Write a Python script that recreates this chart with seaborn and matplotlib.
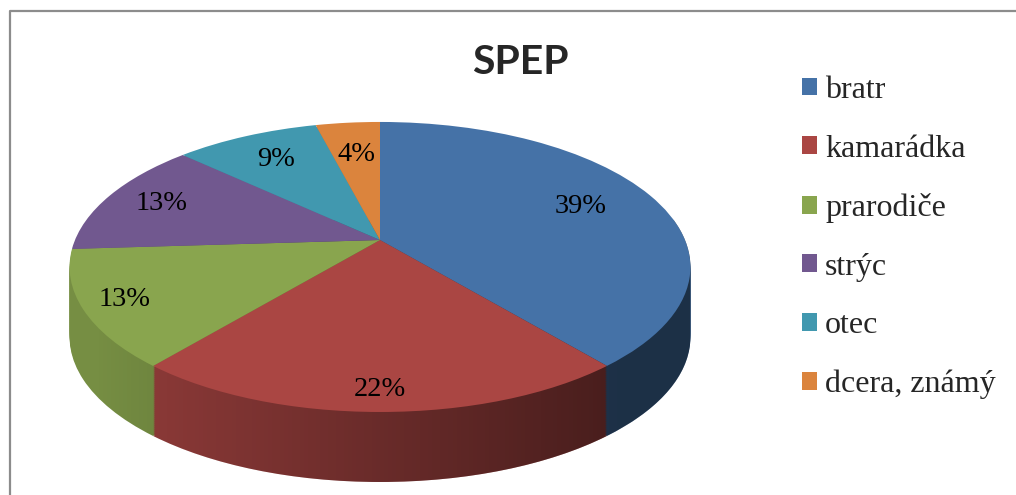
# SPEP pie chart, Excel style 3D pie rebuilt with seaborn / matplotlib

import numpy as np
import seaborn as sns
import matplotlib.pyplot as plt
from matplotlib.transforms import Transform
from matplotlib.colors import to_rgb
from matplotlib.patches import Polygon

sns.set_theme(style="white")

categories = ["bratr", "kamarádka", "prarodiče", "strýc", "otec", "dcera, známý"]
shares = [39, 22, 13, 13, 9, 4]
colors = ["#4572a7", "#aa4643", "#89a54e", "#71588f", "#4198af", "#db843d"]
title = "SPEP"

# how far out each percentage sits (Excel places them a bit unevenly)
label_radius = [0.73, 0.89, 0.87, 0.8, 0.75, 0.69]

W, H = 1016, 495
CX, CY, RX, RY, K = 380, 240, 305, 140, 0.186
DEPTH = 70


class Tilt(Transform):
    """Maps the unit pie onto a tilted disc (simple perspective) in pixel coords."""
    input_dims = output_dims = 2

    def __init__(self, dy=0.0):
        super().__init__()
        self.dy = dy

    def transform_non_affine(self, pts):
        pts = np.asarray(pts, dtype=float).reshape(-1, 2)
        u, v = pts[:, 0], pts[:, 1]
        w = 1 + K * v
        return np.column_stack([CX + RX * u / w, CY - RY * v / w + self.dy])


fig = plt.figure(figsize=(W / 100, H / 100), dpi=100)
ax = fig.add_axes([0, 0, 1, 1])

# side walls: stack of darker pies pushed down
side_cols = [tuple(np.array(to_rgb(c)) * 0.86) for c in colors]
for d in range(DEPTH, 0, -2):
    wed = ax.pie(shares, colors=side_cols, startangle=90, counterclock=False,
                 wedgeprops=dict(linewidth=0))[0]
    tr = Tilt(dy=d) + ax.transData
    for p in wed:
        p.set_transform(tr)
        p.set_zorder(1)

# left-to-right darkening of the side wall
t = np.linspace(0, 2 * np.pi, 721)
circ = np.column_stack([np.cos(t), np.sin(t)])
top_pts = Tilt().transform(circ)
bot_pts = Tilt(dy=DEPTH).transform(circ)
ir, il = np.argmax(top_pts[:, 0]), np.argmin(top_pts[:, 0])
idx_up = np.arange(ir, il + 1) if ir < il else np.r_[ir:721, 0:il + 1]
idx_lo = np.r_[il:721, 0:ir + 1] if il > ir else np.arange(il, ir + 1)
outline = np.vstack([top_pts[idx_up], bot_pts[idx_lo]])
clip = Polygon(outline, closed=True, transform=ax.transData, facecolor="none")

xs = np.linspace(60, 700, 256)
fx = np.clip(0.88 - (xs - 70) / (620 - 70) * 0.46, 0.42, 0.9)
alpha = np.clip(1 - fx / 0.86, 0, 1)
grad = np.zeros((1, len(xs), 4))
grad[..., 3] = alpha
img = ax.imshow(grad, extent=(60, 700, 495, 220), aspect="auto", zorder=2,
                interpolation="bilinear")
img.set_clip_path(clip)

# top face
wedges, _, pcts = ax.pie(shares, colors=colors, startangle=90, counterclock=False,
                         autopct="%d%%", pctdistance=0.8,
                         wedgeprops=dict(linewidth=0),
                         textprops=dict(family="Liberation Serif", fontsize=20.5,
                                        color="black"))
top = Tilt() + ax.transData
for p, txt, r in zip(wedges, pcts, label_radius):
    p.set_transform(top)
    p.set_zorder(3)
    mid = np.radians((p.theta1 + p.theta2) / 2)
    txt.set_position((r * np.cos(mid), r * np.sin(mid)))
    txt.set_transform(top)
    txt.set_zorder(4)

ax.set_aspect("auto")
ax.set_xlim(0, W)
ax.set_ylim(H, 0)
ax.axis("off")

# chart frame (only top and left edges are inside the crop)
ax.plot([9.5, 9.5, W], [H, 11, 11], color="#8c8c8c", lw=1.6,
        solid_capstyle="butt", zorder=5)

fig.text(520 / W, 1 - 63 / H, title, ha="center", va="center",
         family="Lato", fontweight="bold", fontsize=29.5)

ax.legend(wedges, categories, loc="upper left",
          bbox_to_anchor=(802 / W, 1 - 76 / H), bbox_transform=fig.transFigure,
          frameon=False, borderpad=0, borderaxespad=0,
          handlelength=0.47, handleheight=0.47, handletextpad=0.25,
          labelspacing=0.925, prop=dict(family="Liberation Serif", size=23))

plt.savefig("out.png", dpi=100)
